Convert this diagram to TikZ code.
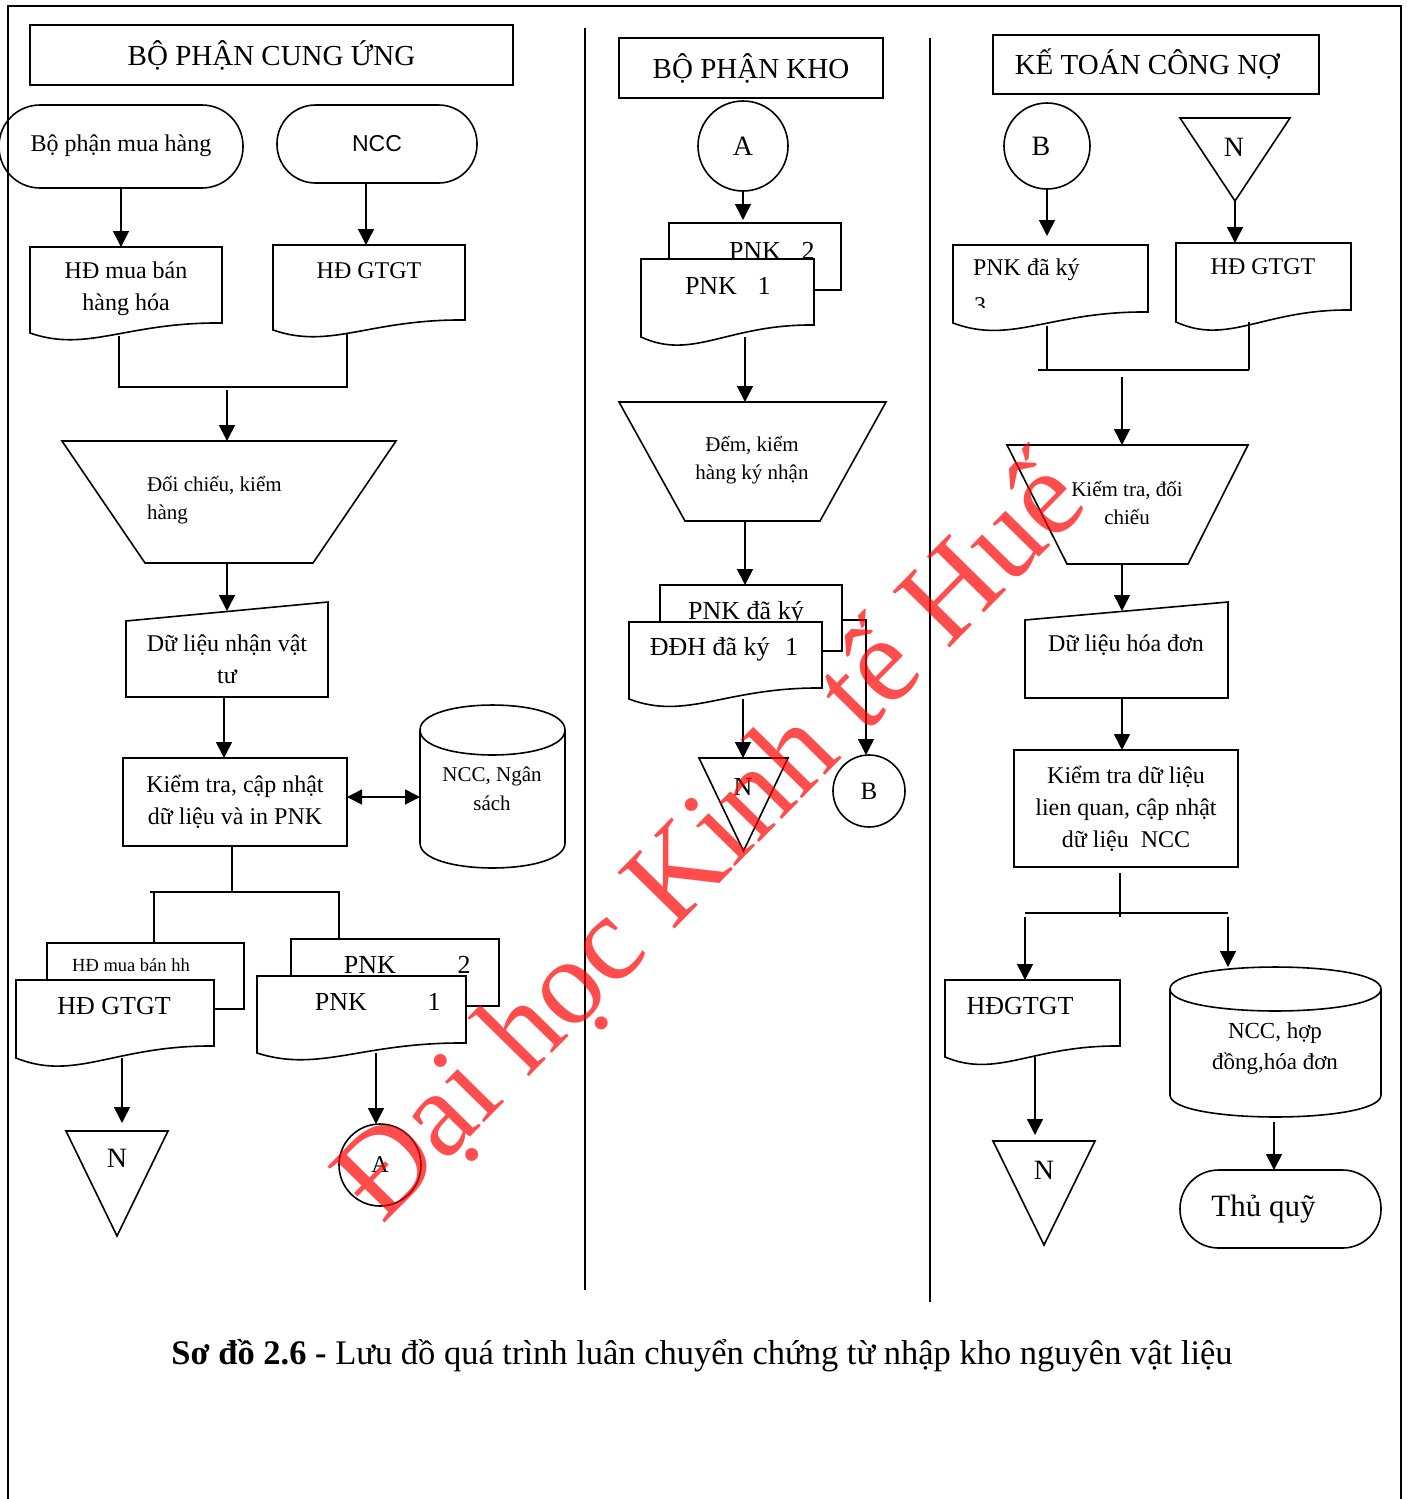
\documentclass[tikz,border=0pt]{standalone}
\usepackage{fontspec}
\setmainfont{Liberation Serif}
\setsansfont{Liberation Sans}
\usetikzlibrary{arrows.meta,calc}

\tikzset{
  shp/.style={line width=1.6pt, draw=black, line join=miter},
  ln/.style={line width=1.6pt},
  arr/.style={line width=1.6pt, -{Triangle[length=16pt,width=16pt]}},
  darr/.style={line width=1.6pt, {Triangle[length=15pt,width=15pt]}-{Triangle[length=15pt,width=15pt]}},
  area/.style={rectangle, inner sep=0pt, outer sep=0pt},
  txt/.style={inner sep=0pt, outer sep=0pt, align=center},
  f18/.style={font=\fontsize{18.5}{24}\selectfont},
  f21/.style={font=\fontsize{21}{28.5}\selectfont},
  f23/.style={font=\fontsize{23}{31}\selectfont},
  f24/.style={font=\fontsize{24}{32}\selectfont},
  f26/.style={font=\fontsize{26}{34}\selectfont},
  f28/.style={font=\fontsize{28}{34}\selectfont},
  f29/.style={font=\fontsize{29}{36}\selectfont},
  f31/.style={font=\fontsize{31}{38}\selectfont},
  frame/.style={line width=2pt},
  lane/.style={line width=1.5pt},
}

% document symbol: straight top and sides, wavy bottom edge
\newcommand\docout[3][]{%
  \draw[shp,#1] (#2.south west) -- (#2.north west) -- (#2.north east) -- ($(#2.south east)+(0,-#3)$)
    .. controls ($(#2.south west)!0.5!(#2.south east)+(0,-#3-1)$)
       and ($(#2.south west)!0.3!(#2.south east)+(0,2.0*#3)$) .. (#2.south west) -- cycle;}
% manual operation: trapezoid narrowing downwards
\newcommand\trapout[2]{%
  \draw[shp] (#1.north west) -- (#1.north east) -- ($(#1.south east)+(-#2,0)$)
    -- ($(#1.south west)+(#2,0)$) -- cycle;}
% manual input: slanted top edge
\newcommand\minout[2]{%
  \draw[shp] (#1.south west) -- ($(#1.north west)+(0,#2)$) -- (#1.north east) -- (#1.south east) -- cycle;}
% off-line storage: downward triangle
\newcommand\triout[1]{%
  \draw[shp] (#1.north west) -- (#1.north east) -- (#1.south) -- cycle;}
% database cylinder
\newcommand\cylout[3]{%
  \draw[shp] ($(#1.north west)+(0,#2)$) -- ($(#1.south west)+(0,-#2)$)
    .. controls ($(#1.south west)+(0,-#2+#3)$) and ($(#1.south east)+(0,-#2+#3)$) .. ($(#1.south east)+(0,-#2)$)
    -- ($(#1.north east)+(0,#2)$)
    .. controls ($(#1.north east)+(0,#2-#3)$) and ($(#1.north west)+(0,#2-#3)$) .. ($(#1.north west)+(0,#2)$) -- cycle;
  \draw[shp] ($(#1.north west)+(0,#2)$)
    .. controls ($(#1.north west)+(0,#2+#3)$) and ($(#1.north east)+(0,#2+#3)$) .. ($(#1.north east)+(0,#2)$);}

\begin{document}
\begin{tikzpicture}[x=1pt,y=-1pt]
\useasboundingbox (0,0) rectangle (1407,1499);
\fill[white] (0,0) rectangle (1407,1499);

% outer frame and lane separators
\draw[frame] (8,1499) -- (8,6) -- (1401,6) -- (1401,1499);
\draw[lane] (585,28) -- (585,1290);
\draw[lane] (930,38) -- (930,1302);

% ===================== BỘ PHẬN CUNG ỨNG =====================
\node[shp, area, minimum width=483pt, minimum height=60pt, f29] (hdrL) at (271.5,55) {BỘ PHẬN CUNG ỨNG};

\node[shp, area, rounded corners=41pt, minimum width=244pt, minimum height=83pt, f24] (mua) at (121,146.5) {\raisebox{6pt}{Bộ phận mua hàng}};
\node[shp, area, rounded corners=38.5pt, minimum width=200pt, minimum height=78pt, font=\sffamily\fontsize{23}{28}\selectfont] (ncc) at (377,144) {NCC};

\node[area, minimum width=192pt, minimum height=86pt] (d1) at (126,290) {};
\docout{d1}{10}
\node[txt, f24] (d1t) at (126,289) {HĐ mua bán\\hàng hóa};
\node[area, minimum width=192pt, minimum height=85pt] (d2) at (369,287.5) {};
\docout{d2}{10}
\node[txt, f24] (d2t) at (369,271) {HĐ GTGT};

\draw[arr] (mua.south) -- (mua.south |- d1.north);
\coordinate (nccout) at ([xshift=-11pt]ncc.south);
\draw[arr] (nccout) -- (nccout |- d2.north);

\coordinate (j1) at (227,387);
\draw[ln, shorten <=3pt, shorten >=4pt] ([xshift=-7pt]d1.south) |- (j1) -| ([xshift=-22pt]d2.south);

\node[area, minimum width=334pt, minimum height=122pt] (t1) at (229,502) {};
\trapout{t1}{83}
\node[txt, f21, align=left, anchor=west] (t1t) at (147,500) {Đối chiếu, kiểm\\hàng};
\draw[arr] ([yshift=-3pt]j1) -- (j1 |- t1.north);

\node[area, minimum width=202pt, minimum height=95pt] (m1) at (227,649.5) {};
\minout{m1}{19}
\node[txt, f24] (m1t) at (227,659) {Dữ liệu nhận vật\\tư};
\coordinate (s1) at (227,0);
\draw[arr, shorten >=-9pt] (s1 |- t1.south) -- (s1 |- m1.north);

\node[shp, area, minimum width=224pt, minimum height=88pt, f24, align=center] (p1) at (235,802) {Kiểm tra, cập nhật\\dữ liệu và in PNK};
\coordinate (s1b) at (224,0);
\draw[arr] (s1b |- m1.south) -- (s1b |- p1.north);

\node[area, minimum width=145pt, minimum height=163pt] (db1) at (492.5,786.5) {};
\cylout{db1}{25}{33.3}
\node[txt, f21] (db1t) at (492,789) {NCC, Ngân\\sách};
\coordinate (q1) at ([yshift=5pt]p1.east);
\draw[darr] (q1) -- (q1 -| db1.west);

% branch below the process box
\coordinate (j2) at (232,892);
\coordinate (k1) at (150,892);
\coordinate (k2) at (340,892);
\coordinate (k3) at (154,892);
\coordinate (k4) at (339,892);
\draw[ln] (j2 |- p1.south) -- (j2);
\draw[ln] (k1) -- (k2);

\node[shp, area, fill=white, minimum width=197pt, minimum height=66pt] (st1b) at (145.5,976) {};
\node[txt, f18] (st1bt) at (131,965) {HĐ mua bán hh};
\node[area, minimum width=198pt, minimum height=78pt] (st1f) at (115,1019) {};
\docout[fill=white]{st1f}{12}
\node[txt, f26] (st1ft) at (114,1006) {HĐ GTGT};
\draw[ln] (k3) -- (k3 |- st1b.north);

\node[shp, area, fill=white, minimum width=208pt, minimum height=67pt] (st2b) at (395,972.5) {};
\node[txt, f26] (st2bt) at (370,965) {PNK};
\node[txt, f26] (st2bn) at (464,965) {2};
\node[area, minimum width=209pt, minimum height=77pt] (st2f) at (361.5,1014.5) {};
\docout[fill=white]{st2f}{10}
\node[txt, f26] (st2ft) at (341,1002) {PNK};
\node[txt, f26] (st2fn) at (434,1002) {1};
\draw[ln] (k4) -- (k4 |- st2b.north);

\node[area, minimum width=102pt, minimum height=105pt] (n1) at (117,1183.5) {};
\triout{n1}
\node[txt, f28] (n1t) at (117,1158) {N};
\coordinate (a1) at ([xshift=7pt]st1f.south);
\draw[arr, shorten >=8pt] (a1) -- (a1 |- n1.north);

\node[shp, circle, inner sep=0pt, outer sep=0pt, minimum size=82pt, f24] (cA2) at (380,1165) {A};
\coordinate (a2) at ([xshift=14.5pt]st2f.south);
\draw[arr] (a2) -- (a2 |- cA2.north);

% ===================== BỘ PHẬN KHO =====================
\node[shp, area, minimum width=264pt, minimum height=60pt, f29] (hdrM) at (751,68) {BỘ PHẬN KHO};
\node[shp, circle, inner sep=0pt, outer sep=0pt, minimum size=90pt, f28] (cA) at (743,146) {A};

\node[shp, area, fill=white, minimum width=172pt, minimum height=67pt] (st3b) at (755,256.5) {};
\node[txt, f26] (st3bt) at (755,251) {PNK};
\node[txt, f26] (st3bn) at (808,251) {2};
\node[area, minimum width=173pt, minimum height=78pt] (st3f) at (727.5,298) {};
\docout[fill=white]{st3f}{12}
\node[txt, f26] (st3ft) at (711,286) {PNK};
\node[txt, f26] (st3fn) at (764,286) {1};
\draw[arr, shorten >=3pt] (cA.south) -- (cA.south |- st3b.north);

\node[area, minimum width=267pt, minimum height=119pt] (t2) at (752.5,461.5) {};
\trapout{t2}{66}
\node[txt, f21] (t2t) at (752,460) {Đếm, kiểm\\hàng ký nhận};
\coordinate (s2) at (745,0);
\draw[arr] (s2 |- st3f.south) -- (s2 |- t2.north);

\node[shp, area, fill=white, minimum width=182pt, minimum height=66pt] (st4b) at (751,618) {};
\node[txt, f26] (st4bt) at (746,613) {PNK đã ký};
\node[area, minimum width=193pt, minimum height=77pt] (st4f) at (725.5,660.5) {};
\docout[fill=white]{st4f}{11}
\node[txt, f26] (st4ft) at (724,649) {ĐĐH đã ký\hspace{0.6em}1};
\draw[arr] (s2 |- t2.south) -- (s2 |- st4b.north);

\node[area, minimum width=89pt, minimum height=93pt] (n2) at (743.5,804.5) {};
\triout{n2}
\node[txt, f26] (n2t) at (743,787) {N};
\coordinate (s3) at (743,0);
\draw[arr] (s3 |- st4f.south) -- (s3 |- n2.north);

\node[shp, circle, inner sep=0pt, outer sep=0pt, minimum size=72pt, font=\fontsize{25}{30}\selectfont] (cB2) at (869,791) {B};
\coordinate (q2) at ([yshift=-2pt]st4b.east);
\coordinate (q3) at ([xshift=-3pt]cB2.north);
\draw[arr] (q2) -| (q3);

% ===================== KẾ TOÁN CÔNG NỢ =====================
\node[shp, area, minimum width=326pt, minimum height=59pt, f29] (hdrR) at (1156,64.5) {KẾ TOÁN CÔNG NỢ\hspace*{18pt}};
\node[shp, circle, inner sep=0pt, outer sep=0pt, minimum size=86pt, f28] (cB) at (1047,146) {B\hspace*{12pt}};
\node[area, minimum width=110pt, minimum height=83pt] (n3) at (1235,159.5) {};
\triout{n3}
\node[txt, f28] (n3t) at (1234,147) {N};

\node[area, minimum width=195pt, minimum height=78pt] (d3) at (1050.5,284) {};
\docout{d3}{11}
\node[txt, f24, anchor=west] (d3t) at (973,270) {PNK đã ký};
\begin{scope}
  \clip (953,290) rectangle (1148,307);
  \node[txt, f24, anchor=west] (d3n) at (974,306) {3};
\end{scope}
\node[area, minimum width=175pt, minimum height=79pt] (d4) at (1263.5,282.5) {};
\docout{d4}{12}
\node[txt, f24] (d4t) at (1263,267) {HĐ GTGT};

\draw[arr, shorten >=9pt] (cB.south) -- (cB.south |- d3.north);
\draw[arr] (n3.south) -- (n3.south |- d4.north);

\coordinate (j3) at (1122,370);
\coordinate (j3a) at (1038,370);
\coordinate (j3b) at (1249,370);
\coordinate (e1) at ([xshift=-3.5pt]d3.south);
\coordinate (e2) at ([xshift=-14.5pt]d4.south);
\draw[ln] (j3a) -- (j3b);
\draw[ln, shorten <=3pt] (e1) -- (e1 |- j3);
\draw[ln] (e2) -- (e2 |- j3);

\node[area, minimum width=241pt, minimum height=119pt] (t3) at (1127.5,504.5) {};
\trapout{t3}{60}
\node[txt, f21] (t3t) at (1127,503) {Kiểm tra, đối\\chiếu};
\draw[arr] ([yshift=-7pt]j3) -- (j3 |- t3.north);

\node[area, minimum width=203pt, minimum height=96pt] (m2) at (1126.5,650) {};
\minout{m2}{18}
\node[txt, f24] (m2t) at (1126,645) {Dữ liệu hóa đơn};
\coordinate (s4) at (1122,0);
\draw[arr, shorten >=-9pt] (s4 |- t3.south) -- (s4 |- m2.north);

\node[shp, area, minimum width=224pt, minimum height=117pt, f24, align=center] (p2) at (1126,808.5) {Kiểm tra dữ liệu\\lien quan, cập nhật\\dữ liệu\ \ NCC};
\draw[arr] (s4 |- m2.south) -- (s4 |- p2.north);

\coordinate (j4) at (1120,913);
\coordinate (j4a) at (1025,913);
\coordinate (j4b) at (1228,913);
\draw[ln, shorten <=6pt] (j4 |- p2.south) -- ([yshift=-4pt]j4);
\draw[ln] (j4a) -- (j4b);

\node[area, minimum width=175pt, minimum height=77pt] (d5) at (1032.5,1018.5) {};
\docout{d5}{11}
\node[txt, f26] (d5t) at (1020,1006) {HĐGTGT};
\draw[arr] ([yshift=-4pt]j4a) -- (j4a |- d5.north);

\node[area, minimum width=211pt, minimum height=150pt] (db2) at (1275.5,1042) {};
\cylout{db2}{22}{29.3}
\node[txt, f23] (db2t) at (1275,1048) {NCC, hợp\\đồng,hóa đơn};
\draw[arr] ([yshift=-4pt]j4b) -- (j4b |- db2.north);

\node[area, minimum width=102pt, minimum height=104pt] (n4) at (1044,1193) {};
\triout{n4}
\node[txt, f28] (n4t) at (1044,1170) {N};
\coordinate (e4) at ([xshift=2.5pt]d5.south);
\draw[arr, shorten >=6pt] (e4) -- (e4 |- n4.north);

\node[shp, area, rounded corners=38.5pt, minimum width=201pt, minimum height=78pt, f31] (tq) at (1280.5,1209) {Thủ quỹ\hspace*{34pt}};
\coordinate (e5) at ([xshift=-1.5pt]db2.south);
\draw[arr, shorten <=5pt] (e5) -- (e5 |- tq.north);

% caption
\node[txt, font=\fontsize{34.5}{40}\selectfont] (cap) at (702,1356) {\textbf{Sơ đồ 2.6 -} Lưu đồ quá trình luân chuyển chứng từ nhập kho nguyên vật liệu};

% watermark
\node[inner sep=0pt, font=\fontsize{122}{126}\selectfont, text=red, opacity=0.7, rotate=45.5] (wm) at (712,842) {Đại học Kinh tế Huế};
\end{tikzpicture}
\end{document}
